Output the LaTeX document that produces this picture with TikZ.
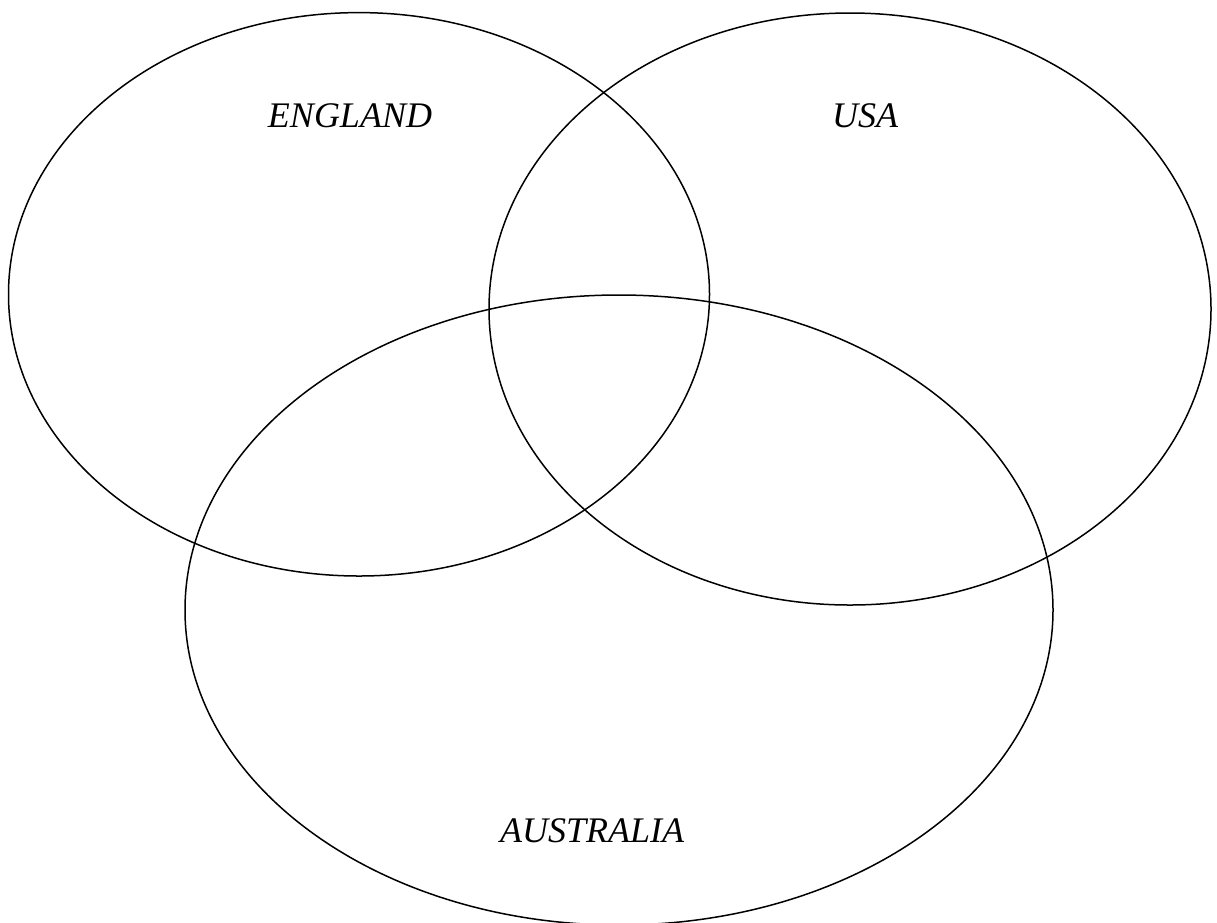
\documentclass[tikz,border=0pt]{standalone}
\usepackage{fontspec}
\setmainfont{Liberation Serif}
\begin{document}
\begin{tikzpicture}[x=1pt,y=-1pt,
  setline/.style={draw=black,line width=1.5pt},
  setlabel/.style={font=\fontsize{36}{40}\selectfont\itshape,anchor=base,inner sep=0pt}]
\useasboundingbox (0,0) rectangle (1217,922);
\begin{scope}
\clip (0,0) rectangle (1217,922);
\draw[setline] (359,294.3) ellipse [x radius=350.5, y radius=281.7];
\draw[setline] (850,309) ellipse [x radius=361, y radius=296];
\draw[setline] (619,610) ellipse [x radius=434, y radius=315];
\end{scope}
\node[setlabel] (england) at (350,127) {ENGLAND};
\node[setlabel] (usa) at (865,127) {USA};
\node[setlabel] (australia) at (592,842) {AUSTRALIA};
\end{tikzpicture}
\end{document}
